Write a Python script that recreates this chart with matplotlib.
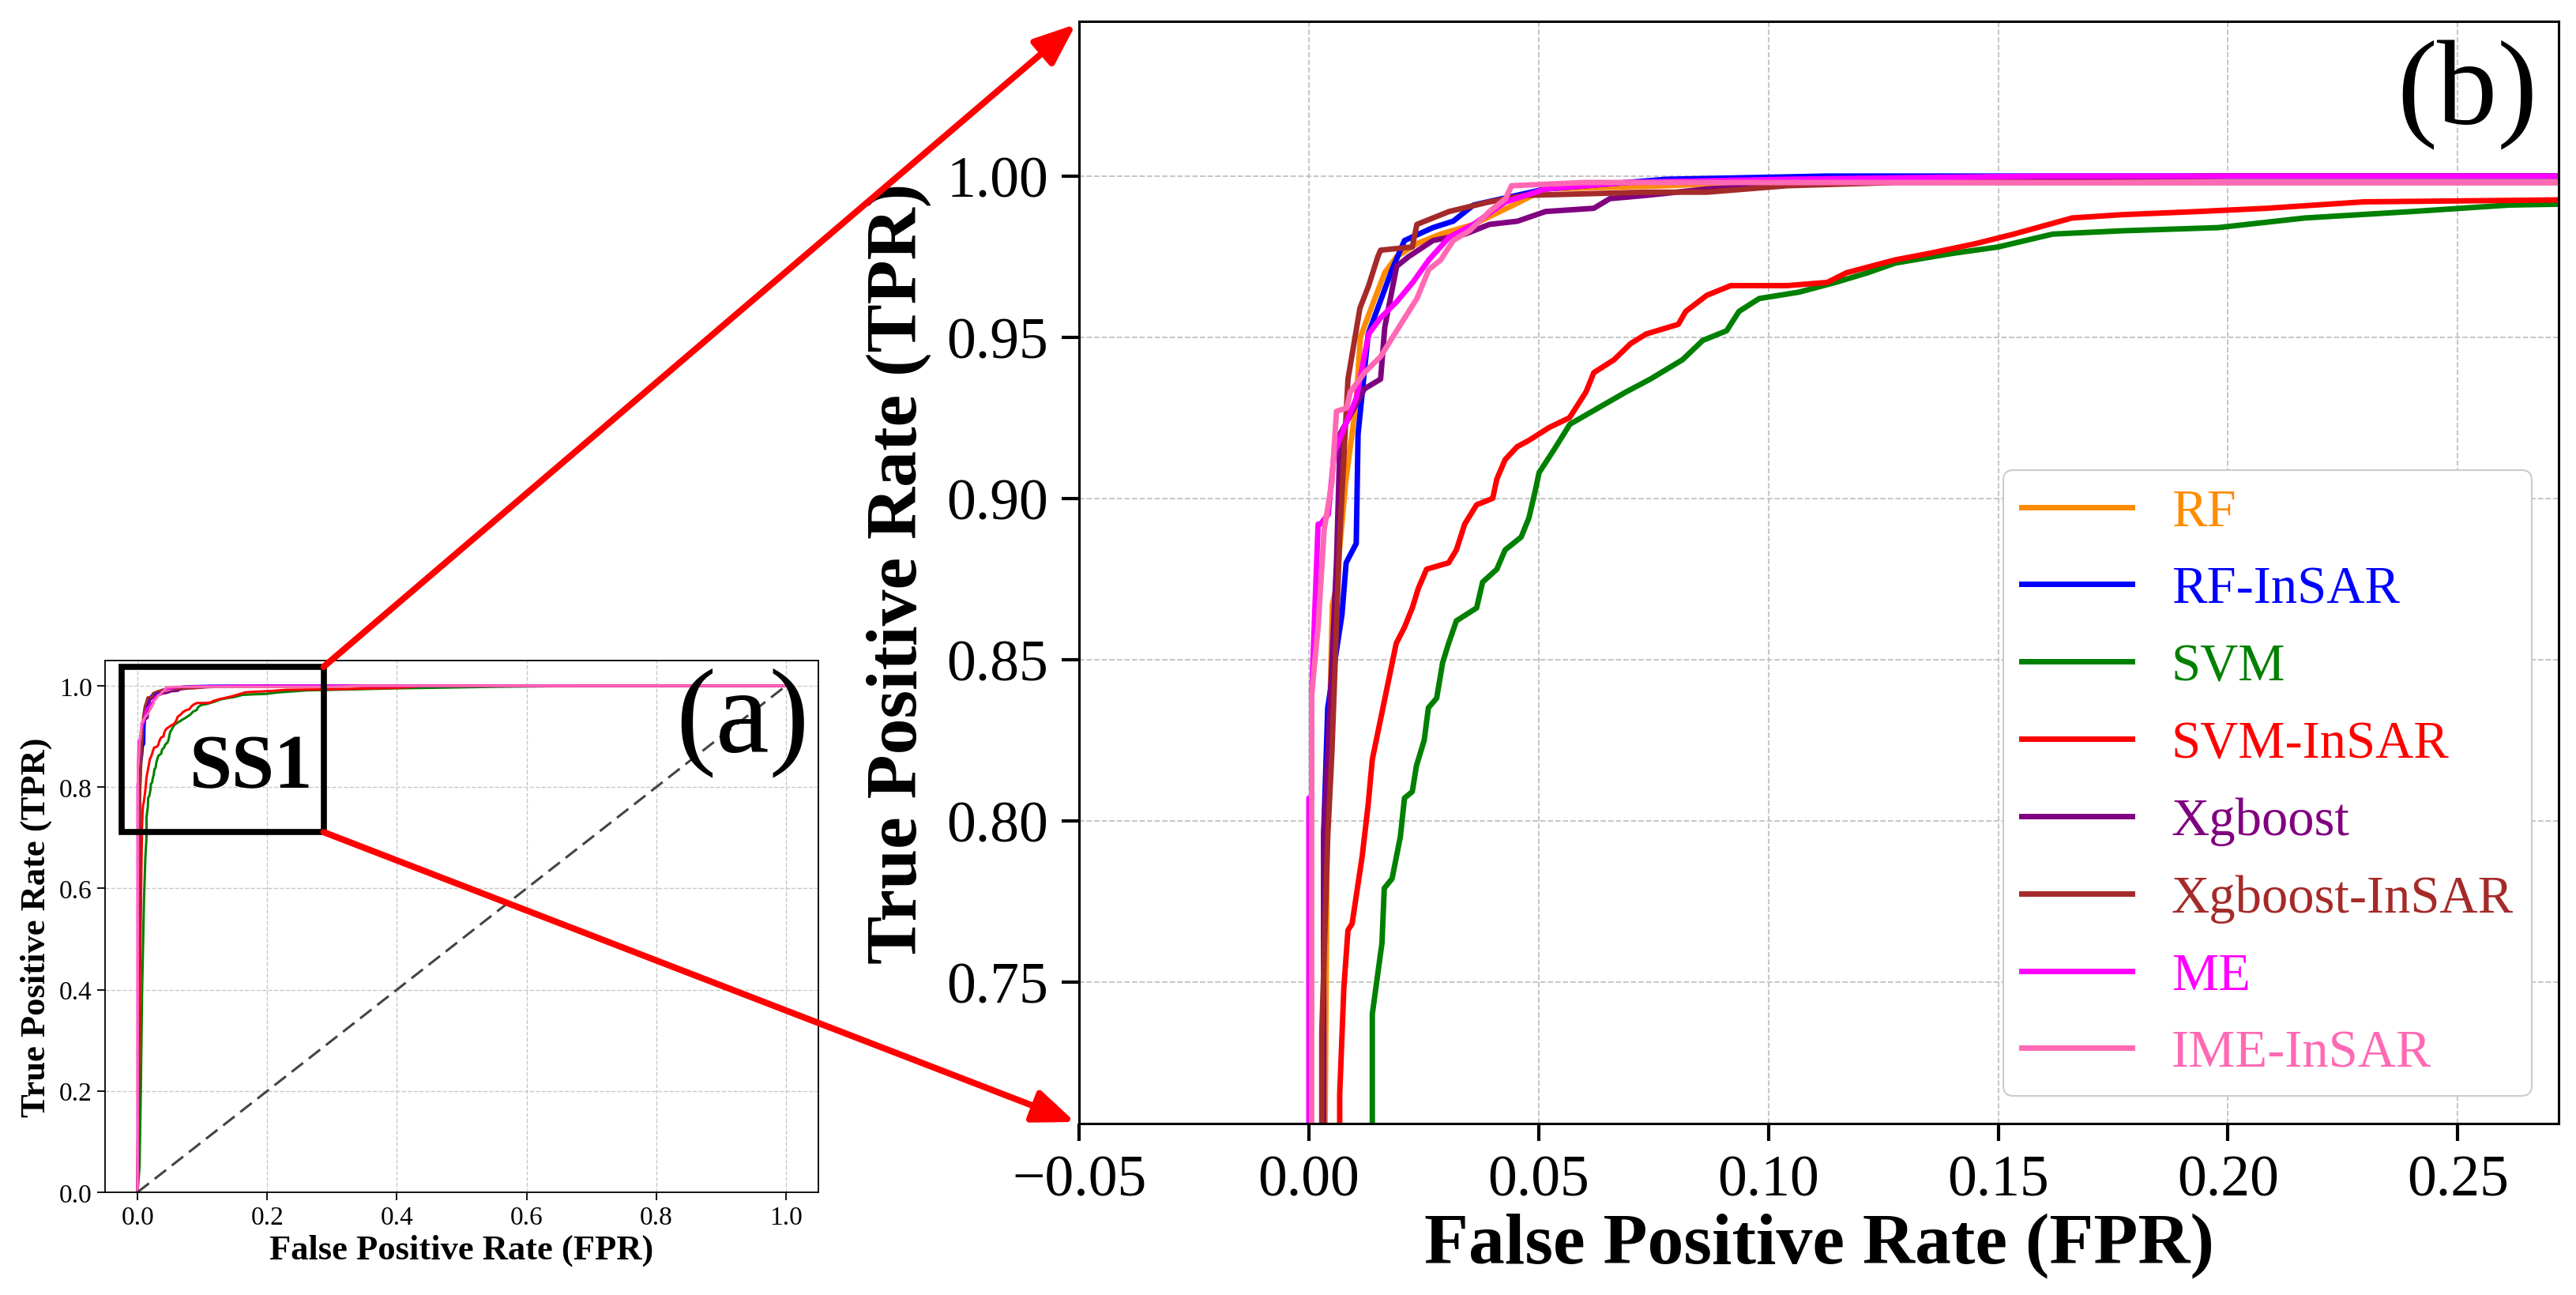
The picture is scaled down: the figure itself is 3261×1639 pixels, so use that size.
import matplotlib
matplotlib.use('Agg')
import matplotlib.pyplot as plt
from matplotlib.patches import Rectangle, ConnectionPatch

plt.rcParams['font.family'] = ['Liberation Serif', 'DejaVu Serif']

models = ['RF', 'RF-InSAR', 'SVM', 'SVM-InSAR', 'Xgboost', 'Xgboost-InSAR', 'ME', 'IME-InSAR']
colors = ['darkorange', 'blue', 'green', 'red', 'purple', 'brown', 'magenta', 'hotpink']

# ROC points (FPR, TPR)
rf_fpr = [0, 0.0035, 0.0040, 0.0051, 0.0059, 0.0080, 0.0103, 0.0112, 0.0138, 0.0165, 0.0191,
          0.0235, 0.0287, 0.0358, 0.0445, 0.0515, 0.0778, 0.1128, 0.20, 1.0]
rf_tpr = [0, 0.70, 0.80, 0.867, 0.872, 0.905, 0.930, 0.950, 0.960, 0.970, 0.975,
          0.979, 0.982, 0.985, 0.991, 0.996, 0.997, 0.999, 1.0, 1.0]

rfi_fpr = [0, 0.0032, 0.0032, 0.0041, 0.0072, 0.0081, 0.0103, 0.0107, 0.0129, 0.0155, 0.0181,
           0.0208, 0.0270, 0.0314, 0.0358, 0.0515, 0.0778, 0.1128, 1.0]
rfi_tpr = [0, 0.70, 0.795, 0.835, 0.864, 0.880, 0.886, 0.920, 0.951, 0.961, 0.971,
           0.980, 0.984, 0.986, 0.991, 0.996, 0.999, 1.0, 1.0]

svm_fpr = [0, 0.003, 0.005, 0.007, 0.010, 0.012, 0.0138, 0.0138, 0.0159, 0.0164, 0.0181, 0.0199,
           0.0208, 0.0225, 0.0234, 0.0251, 0.0260, 0.0278, 0.0291, 0.0304, 0.0321, 0.0365, 0.0378,
           0.0409, 0.0427, 0.0462, 0.0479, 0.0492, 0.0501, 0.0533, 0.0568, 0.0629, 0.0690, 0.0743,
           0.0813, 0.0857, 0.0909, 0.0936, 0.0980, 0.1067, 0.1146, 0.1216, 0.1276, 0.14, 0.15,
           0.1619, 0.1767, 0.1978, 0.2168, 0.2401, 0.2612, 0.30, 0.40, 0.55, 0.70, 1.0]
svm_tpr = [0, 0.05, 0.20, 0.40, 0.58, 0.66, 0.70, 0.740, 0.762, 0.779, 0.782, 0.795,
           0.807, 0.809, 0.817, 0.825, 0.835, 0.838, 0.849, 0.855, 0.862, 0.866, 0.874,
           0.878, 0.884, 0.888, 0.894, 0.902, 0.908, 0.915, 0.923, 0.928, 0.933, 0.937,
           0.943, 0.949, 0.952, 0.958, 0.962, 0.964, 0.967, 0.970, 0.973, 0.976, 0.978,
           0.982, 0.983, 0.984, 0.987, 0.989, 0.991, 0.992, 0.995, 0.998, 1.0, 1.0]

svmi_fpr = [0, 0.002, 0.004, 0.006, 0.0067, 0.0067, 0.0076, 0.0085, 0.0094, 0.0116, 0.0129,
            0.0138, 0.0151, 0.0164, 0.0190, 0.0208, 0.0225, 0.0238, 0.0256, 0.0304, 0.0321,
            0.0339, 0.0365, 0.0400, 0.0409, 0.0427, 0.0453, 0.0479, 0.0523, 0.0567, 0.0603,
            0.0620, 0.0664, 0.0700, 0.0734, 0.0804, 0.0820, 0.0866, 0.0918, 0.1040, 0.1128,
            0.1170, 0.1276, 0.1350, 0.1450, 0.1534, 0.1661, 0.1767, 0.1936, 0.2084, 0.2296,
            0.30, 0.40, 0.45, 1.0]
svmi_tpr = [0, 0.20, 0.45, 0.65, 0.70, 0.715, 0.748, 0.766, 0.768, 0.789, 0.805,
            0.819, 0.828, 0.837, 0.855, 0.860, 0.866, 0.872, 0.878, 0.880, 0.884,
            0.892, 0.898, 0.900, 0.906, 0.912, 0.916, 0.918, 0.922, 0.925, 0.933,
            0.939, 0.943, 0.948, 0.951, 0.954, 0.958, 0.963, 0.966, 0.966, 0.967,
            0.970, 0.974, 0.976, 0.979, 0.982, 0.987, 0.988, 0.989, 0.990, 0.992,
            0.993, 0.996, 1.0, 1.0]

xgb_fpr = [0, 0.0032, 0.0032, 0.0041, 0.0060, 0.0068, 0.0121, 0.0156, 0.0165, 0.0191, 0.0217,
           0.0270, 0.0340, 0.0393, 0.0454, 0.0515, 0.0620, 0.0655, 0.0734, 0.0866, 0.1276, 0.20, 1.0]
xgb_tpr = [0, 0.70, 0.795, 0.821, 0.880, 0.920, 0.934, 0.937, 0.953, 0.972, 0.975,
           0.980, 0.982, 0.985, 0.986, 0.989, 0.990, 0.993, 0.994, 0.996, 0.999, 1.0, 1.0]

xgbi_fpr = [0, 0.0028, 0.0028, 0.0041, 0.0050, 0.0067, 0.0085, 0.0111, 0.0130, 0.0150, 0.0156,
            0.0225, 0.0235, 0.0305, 0.0393, 0.0470, 0.0734, 0.0866, 0.1041, 0.1276, 0.30, 0.35, 1.0]
xgbi_tpr = [0, 0.70, 0.734, 0.795, 0.821, 0.888, 0.937, 0.959, 0.966, 0.975, 0.977,
            0.978, 0.985, 0.989, 0.992, 0.994, 0.995, 0.995, 0.997, 0.998, 0.998, 1.0, 1.0]

me_fpr = [0, 0.0, 0.0006, 0.0006, 0.0020, 0.0025, 0.0042, 0.0055, 0.0077, 0.0103, 0.0130, 0.0156,
          0.0191, 0.0226, 0.0261, 0.0305, 0.0358, 0.0428, 0.0515, 0.0690, 0.1041, 0.16, 1.0]
me_tpr = [0, 0.807, 0.807, 0.839, 0.892, 0.892, 0.895, 0.914, 0.922, 0.931, 0.951, 0.956,
          0.961, 0.967, 0.974, 0.981, 0.985, 0.992, 0.996, 0.998, 0.999, 1.0, 1.0]

ime_fpr = [0, 0.0006, 0.0006, 0.0020, 0.0033, 0.0050, 0.0060, 0.0082, 0.0090, 0.0121, 0.0156,
           0.0191, 0.0235, 0.0261, 0.0287, 0.0314, 0.0349, 0.0393, 0.0428, 0.0441, 0.06, 0.30, 0.35, 1.0]
ime_tpr = [0, 0.70, 0.839, 0.860, 0.890, 0.905, 0.927, 0.928, 0.933, 0.939, 0.944,
           0.952, 0.962, 0.971, 0.974, 0.980, 0.983, 0.989, 0.993, 0.997, 0.998, 0.998, 1.0, 1.0]

curves = [(rf_fpr, rf_tpr), (rfi_fpr, rfi_tpr), (svm_fpr, svm_tpr), (svmi_fpr, svmi_tpr),
          (xgb_fpr, xgb_tpr), (xgbi_fpr, xgbi_tpr), (me_fpr, me_tpr), (ime_fpr, ime_tpr)]

ticks_a = [0.0, 0.2, 0.4, 0.6, 0.8, 1.0]
xticks_b = [-0.05, 0.0, 0.05, 0.10, 0.15, 0.20, 0.25]
yticks_b = [0.75, 0.80, 0.85, 0.90, 0.95, 1.00]

fig = plt.figure(figsize=(32.62, 16.4), dpi=100)
ax1 = fig.add_axes([0.0408, 0.0793, 0.2768, 0.4104])
ax2 = fig.add_axes([0.4188, 0.1323, 0.5742, 0.8506])

# ---- panel (a): full ROC
for (x, y), c, m in zip(curves, colors, models):
    ax1.plot(x, y, color=c, lw=2.2, label=m)
ax1.plot([0, 1], [0, 1], ls='--', color='#444444', lw=2.2, dashes=(6, 3))
ax1.set_xlim(-0.05, 1.05)
ax1.set_ylim(0, 1.05)
ax1.set_xticks(ticks_a)
ax1.set_yticks(ticks_a)
ax1.set_xticklabels([f'{t:.1f}' for t in ticks_a])
ax1.set_yticklabels([f'{t:.1f}' for t in ticks_a])
ax1.tick_params(labelsize=24, length=7, width=1.3, pad=5)
ax1.grid(True, ls='--', color='#c8c8c8', lw=1.0)
ax1.set_axisbelow(True)
for s in ax1.spines.values():
    s.set_linewidth(1.3)
ax1.set_xlabel('False Positive Rate (FPR)', fontsize=32, fontweight='bold', labelpad=4)
ax1.set_ylabel('True Positive Rate (TPR)', fontsize=32, fontweight='bold', labelpad=6)
ax1.text(0.987, 0.83, '(a)', transform=ax1.transAxes, ha='right', va='baseline', fontsize=110)
ax1.add_patch(Rectangle((-0.024, 0.711), 0.311, 0.3265, fill=False, ec='black', lw=5.5,
                        zorder=6, clip_on=False))
ax1.text(0.175, 0.80, 'SS1', ha='center', va='baseline', fontsize=70, fontweight='bold', zorder=7)

# ---- panel (b): zoomed ROC
for (x, y), c, m in zip(curves, colors, models):
    ax2.plot(x, y, color=c, lw=5, label=m)
ax2.set_xlim(-0.05, 0.272)
ax2.set_ylim(0.706, 1.048)
ax2.set_xticks(xticks_b)
ax2.set_yticks(yticks_b)
ax2.set_xticklabels([f'{t:.2f}'.replace('-', '\u2212') for t in xticks_b])
ax2.set_yticklabels([f'{t:.2f}' for t in yticks_b])
ax2.tick_params(labelsize=53, length=16, width=3, pad=12)
ax2.grid(True, ls='--', color='#c0c0c0', lw=1.3)
ax2.set_axisbelow(True)
for s in ax2.spines.values():
    s.set_linewidth(2.2)
ax2.set_xlabel('False Positive Rate (FPR)', fontsize=66, fontweight='bold', labelpad=4)
ax2.set_ylabel('True Positive Rate (TPR)', fontsize=66, fontweight='bold', labelpad=14)
ax2.text(0.986, 0.9075, '(b)', transform=ax2.transAxes, ha='right', va='baseline', fontsize=110)

leg = ax2.legend(loc='lower right', bbox_to_anchor=(0.982, 0.025), borderaxespad=0,
                 fontsize=48, handlelength=2.1, handletextpad=0.75, labelspacing=0.55,
                 borderpad=0.35, fancybox=True, framealpha=1, edgecolor='#cccccc')
leg.get_frame().set_linewidth(1.5)
for t, c in zip(leg.get_texts(), colors):
    t.set_color(c)

# ---- red arrows linking the SS1 box to panel (b)
for ya, yb in [(1.0375, 1.0), (0.711, 0.0)]:
    con = ConnectionPatch(xyA=(0.287, ya), coordsA='data', axesA=ax1,
                          xyB=(0.0, yb), coordsB='axes fraction', axesB=ax2,
                          arrowstyle='-|>,head_length=0.8,head_width=0.32', mutation_scale=40,
                          color='red', lw=5.8, shrinkA=0, shrinkB=4, zorder=10)
    fig.add_artist(con)

fig.savefig('out.png', dpi=100)
